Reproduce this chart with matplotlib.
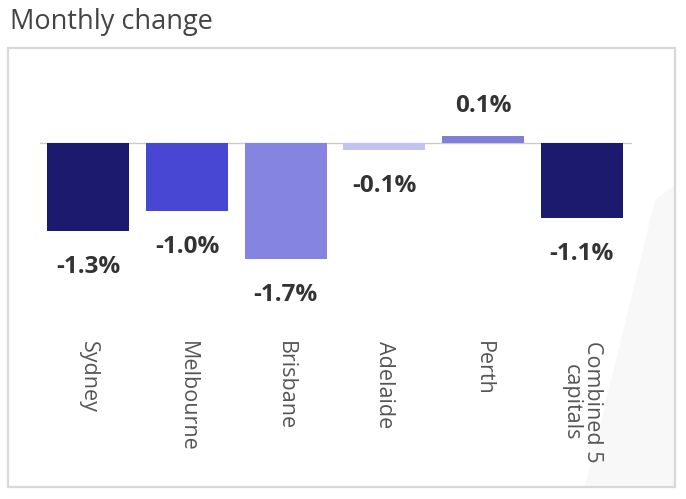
import numpy as np
import matplotlib.pyplot as plt
from matplotlib.patches import Rectangle, Polygon

# - Data
cities = ['Sydney', 'Melbourne', 'Brisbane', 'Adelaide', 'Perth', 'Combined 5\ncapitals']
change = [-1.3, -1.0, -1.7, -0.1, 0.1, -1.1]
colours = ['#1b1a6e', '#4747d3', '#8585e1', '#c3c3ef', '#7f7fd8', '#1b1a6e']

plt.rcParams['font.family'] = ['Open Sans', 'DejaVu Sans']

W, H = 686, 499
fig = plt.figure(figsize=(W / 100, H / 100), dpi=100)

# - Frame and faint shading
fig.patches.append(Polygon([(655 / W, 1 - 200 / H), (675 / W, 1 - 185 / H), (675 / W, 1 - 487 / H), (585 / W, 1 - 487 / H)],
                           closed=True, transform=fig.transFigure, facecolor='#f8f8f8', edgecolor='none', zorder=0))
fig.patches.append(Rectangle((8 / W, 1 - 487 / H), 667 / W, 439 / H, transform=fig.transFigure,
                             facecolor='none', edgecolor='#d8d8d8', linewidth=1.6, zorder=1))

fig.text(10 / W, 1 - 22 / H, 'Monthly change', fontsize=19.5, color='#444444', va='center', ha='left')

ax = fig.add_axes([40 / W, 1 - 330 / H, 592 / W, 270 / H])
ax.set_zorder(2)
ax.patch.set_alpha(0)
x = np.arange(len(cities))
ax.bar(x, change, width=0.83, color=colours, zorder=2)
ax.axhline(0, color='#cccccc', linewidth=1, zorder=1)

for xi, v in zip(x, change):
    if v < 0:
        ax.annotate('{:.1f}%'.format(v), (xi, v), xytext=(0, -26), textcoords='offset points',
                    ha='center', va='center', fontsize=17.5, fontweight='bold', color='#333333')
    else:
        ax.annotate('{:.1f}%'.format(v), (xi, v), xytext=(0, 22), textcoords='offset points',
                    ha='center', va='center', fontsize=17.5, fontweight='bold', color='#333333')

ax.set_xlim(-0.49, 5.51)
ax.set_ylim(-2.75, 1.22)
ax.set_xticks(x)
ax.set_xticklabels(cities, rotation=-90, va='top', ha='center', multialignment='center',
                   fontsize=15.5, color='#555555', linespacing=1.05)
ax.tick_params(axis='x', length=0, pad=8)
ax.set_yticks([])
for s in ax.spines.values():
    s.set_visible(False)

plt.savefig('out.png', dpi=100)
